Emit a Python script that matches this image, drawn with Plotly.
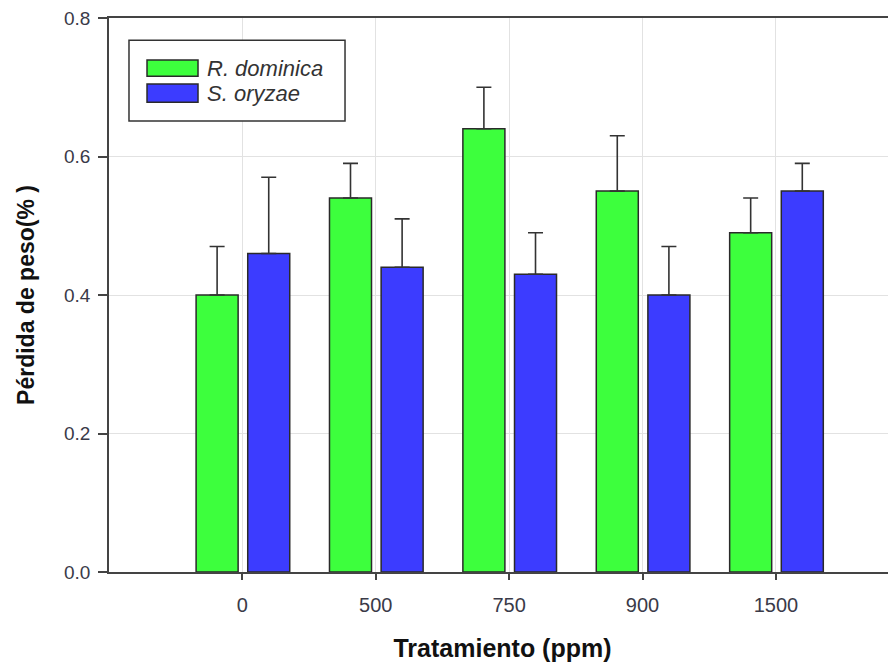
import plotly.graph_objects as go

categories = ["0", "500", "750", "900", "1500"]
r_dominica = [0.40, 0.54, 0.64, 0.55, 0.49]
r_dominica_err = [0.07, 0.05, 0.06, 0.08, 0.05]
s_oryzae = [0.46, 0.44, 0.43, 0.40, 0.55]
s_oryzae_err = [0.11, 0.07, 0.06, 0.07, 0.04]
series_names = ["R. dominica", "S. oryzae"]
y_ticks = [0.0, 0.2, 0.4, 0.6, 0.8]

GREEN = "#3DFF3D"
BLUE = "#3C3CFF"
EDGE = "#2a2a2a"

fig = go.Figure()
for name, vals, errs, col, off in [
    (series_names[0], r_dominica, r_dominica_err, GREEN, -0.347),
    (series_names[1], s_oryzae, s_oryzae_err, BLUE, 0.040),
]:
    fig.add_trace(go.Bar(
        x=categories, y=vals, name=name,
        width=0.315, offset=off,
        marker=dict(color=col, line=dict(color=EDGE, width=1.5)),
        error_y=dict(type="data", array=errs, arrayminus=[0] * len(errs),
                     symmetric=False, color="#333333", thickness=1.6, width=7.5),
        showlegend=False,
    ))

# custom legend box (paper coordinates)
fig.add_shape(type="rect", xref="paper", yref="paper", x0=0.0254, x1=0.2999,
              y0=0.814, y1=0.960, line=dict(color="#333333", width=1.5),
              fillcolor="white", layer="above")
for name, col, y0, y1 in [(series_names[0], GREEN, 0.895, 0.924),
                          (series_names[1], BLUE, 0.848, 0.881)]:
    fig.add_shape(type="rect", xref="paper", yref="paper", x0=0.0483, x1=0.1131,
                  y0=y0, y1=y1, line=dict(color=EDGE, width=1.5),
                  fillcolor=col, layer="above")
    fig.add_annotation(xref="paper", yref="paper", x=0.1258, y=(y0 + y1) / 2,
                       text="<i>" + name + "</i>", showarrow=False,
                       xanchor="left", yanchor="middle", xshift=-3,
                       font=dict(family="Liberation Sans, Arial", size=22, color="#333333"))

fig.update_layout(
    width=888, height=656,
    margin=dict(l=101, r=0, t=10, b=92),
    paper_bgcolor="white", plot_bgcolor="white",
    barmode="overlay",
    font=dict(family="Liberation Sans, Arial", color="#333333"),
)
fig.update_xaxes(
    type="category", range=[-1.0, 4.9],
    showgrid=True, gridcolor="#e2e2e2", gridwidth=1,
    showline=True, linecolor="#444444", linewidth=1.8, mirror=True,
    ticks="outside", ticklen=6, tickcolor="#444444", tickwidth=1.5,
    tickfont=dict(family="Liberation Sans, Arial", size=20, color="#3a3a48"),
    ticklabelstandoff=8,
    title=dict(text="<b>Tratamiento (ppm)</b>", standoff=25,
               font=dict(family="Liberation Sans, Arial", size=25, color="#111111")),
    zeroline=False,
)
fig.update_yaxes(
    range=[0, 0.8], tickvals=y_ticks, tickformat=".1f",
    showgrid=True, gridcolor="#e2e2e2", gridwidth=1,
    showline=True, linecolor="#444444", linewidth=1.8,
    ticks="outside", ticklen=9, tickcolor="#444444", tickwidth=1.5,
    tickfont=dict(family="Liberation Sans, Arial", size=19, color="#3a3a48"),
    ticklabelstandoff=4, ticklabeloverflow="allow",
    title=dict(text="<b>Pérdida de peso(% )</b>", standoff=23,
               font=dict(family="Liberation Sans, Arial", size=23, color="#111111")),
    zeroline=False,
)

fig.write_html("out.html")
